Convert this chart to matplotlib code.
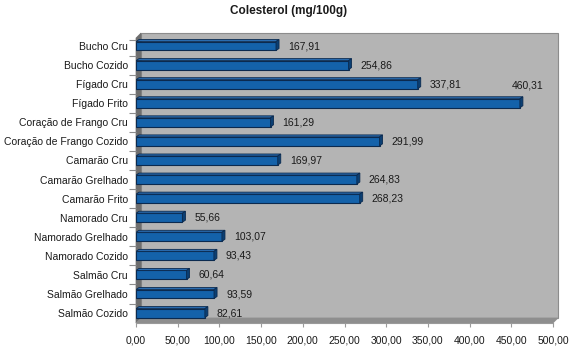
import matplotlib.pyplot as plt
from matplotlib.patches import Polygon

plt.rcParams['font.family'] = ['Liberation Sans', 'DejaVu Sans']

categories = ['Bucho Cru', 'Bucho Cozido', 'Fígado Cru', 'Fígado Frito',
              'Coração de Frango Cru', 'Coração de Frango Cozido', 'Camarão Cru',
              'Camarão Grelhado', 'Camarão Frito', 'Namorado Cru',
              'Namorado Grelhado', 'Namorado Cozido', 'Salmão Cru',
              'Salmão Grelhado', 'Salmão Cozido']
values = [167.91, 254.86, 337.81, 460.31, 161.29, 291.99, 169.97, 264.83,
          268.23, 55.66, 103.07, 93.43, 60.64, 93.59, 82.61]
xticks = [0, 50, 100, 150, 200, 250, 300, 350, 400, 450, 500]

W, H = 580, 361
fig = plt.figure(figsize=(W / 100, H / 100), dpi=100)
# axes box in pixels: x 136..553, y 38..323 (from top)
ax_l, ax_r, ax_t, ax_b = 136, 553, 38, 323
ax = fig.add_axes([ax_l / W, (H - ax_b) / H, (ax_r - ax_l) / W, (ax_b - ax_t) / H])
ax.set_xlim(0, 500)
ax.set_ylim(14.52, -0.42)

# pixel -> data unit helpers
px_x = 500 / (ax_r - ax_l)
px_y = 14.94 / (ax_b - ax_t)

# 3D box: back wall, left wall, floor
dx, dy = 5 * px_x, 5 * px_y
y0, y1 = 14.52, -0.42
ax.add_patch(Polygon([(dx, y1 - dy), (500 + dx, y1 - dy), (500 + dx, y0 - dy), (dx, y0 - dy)],
                     closed=True, fc='#b4b4b4', ec='#8c8c8c', lw=0.8, zorder=0, clip_on=False))
ax.add_patch(Polygon([(0, y1), (dx, y1 - dy), (dx, y0 - dy), (0, y0)],
                     closed=True, fc='#6e6e6e', ec='#6e6e6e', lw=0.5, zorder=0.5, clip_on=False))
ax.add_patch(Polygon([(0, y0), (500, y0), (500 + dx, y0 - dy), (dx, y0 - dy)],
                     closed=True, fc='#8e8e8e', ec='#8e8e8e', lw=0.5, zorder=0.5, clip_on=False))

# bars with a small extruded top and end face
bh = 0.47
bdx, bdy = 3 * px_x, 2 * px_y
ypos = list(range(len(categories)))
ax.barh(ypos, values, height=bh, color='#1462aa', edgecolor='#0b2a4f', lw=0.8, zorder=3)
for y, v in zip(ypos, values):
    top = y - bh / 2
    bot = y + bh / 2
    ax.add_patch(Polygon([(0, top), (v, top), (v + bdx, top - bdy), (bdx, top - bdy)],
                         closed=True, fc='#2a6cb0', ec='#0b2a4f', lw=0.6, zorder=3))
    ax.add_patch(Polygon([(v, top), (v + bdx, top - bdy), (v + bdx, bot - bdy), (v, bot)],
                         closed=True, fc='#0b3f73', ec='#0b2a4f', lw=0.6, zorder=3))
    label = f'{v:.2f}'.replace('.', ',')
    if v > 440:
        ax.text(v - 8 * px_x, y - 0.95, label, ha='left', va='center', fontsize=7.5,
                color='#1a1a1a', zorder=4)
    else:
        ax.text(v + 12 * px_x, y, label, ha='left', va='center', fontsize=7.5,
                color='#1a1a1a', zorder=4)

ax.set_xticks(xticks)
ax.set_xticklabels([f'{t:.2f}'.replace('.', ',') for t in xticks], fontsize=7.5, color='#1a1a1a')
ax.set_yticks(ypos)
ax.set_yticklabels(categories, fontsize=7.5, color='#1a1a1a')
ax.set_yticks([y + 0.5 for y in ypos[:-1]] + [-0.42 + 0.1], minor=True)
ax.tick_params(axis='y', which='major', length=0, pad=6)
ax.tick_params(axis='y', which='minor', length=5, color='#8c8c8c', width=0.8)
ax.tick_params(axis='x', length=3, color='#9a9a9a', width=0.8, pad=6)
for side in ['top', 'right', 'left']:
    ax.spines[side].set_visible(False)
ax.spines['bottom'].set_color('#9a9a9a')
ax.spines['bottom'].set_linewidth(0.8)

fig.text(289 / W, 1 - 11 / H, 'Colesterol (mg/100g)', ha='center', va='center',
         fontsize=8.5, fontweight='bold', color='#1a1a1a')

fig.savefig('out.png', dpi=100)
